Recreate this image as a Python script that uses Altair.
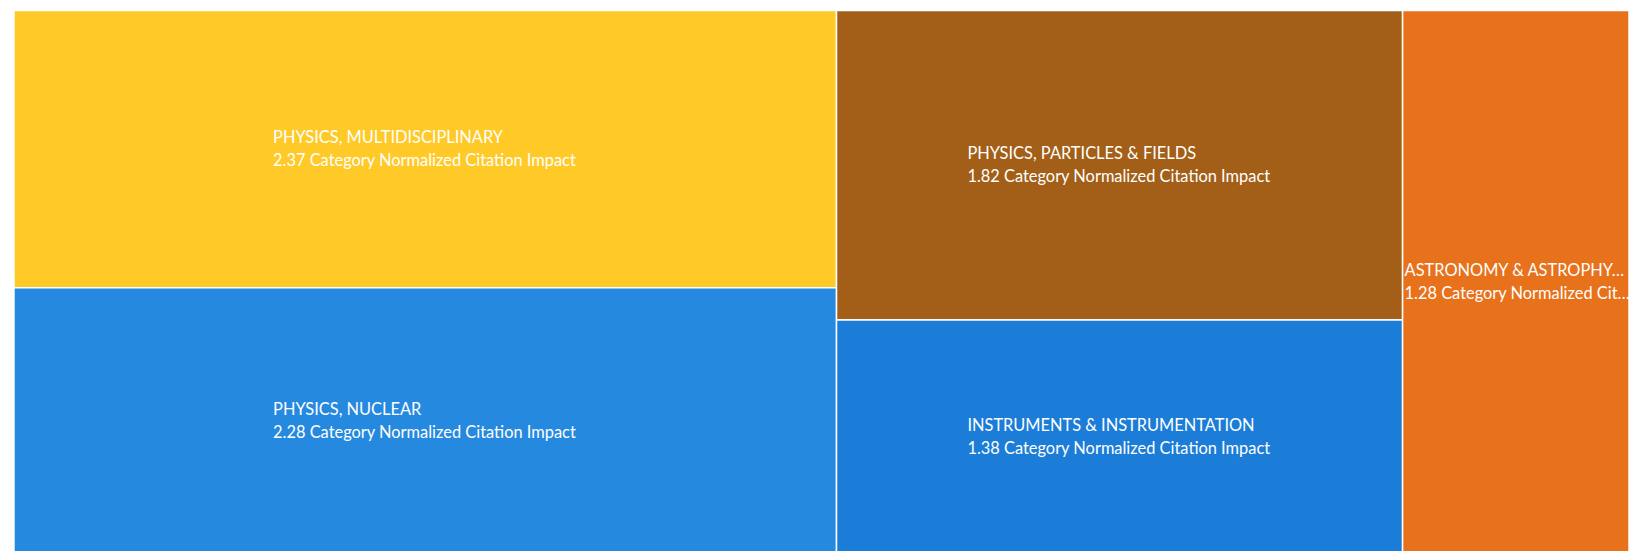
import altair as alt
import pandas as pd

categories = [
    "PHYSICS, MULTIDISCIPLINARY",
    "PHYSICS, NUCLEAR",
    "PHYSICS, PARTICLES & FIELDS",
    "INSTRUMENTS & INSTRUMENTATION",
    "ASTRONOMY & ASTROPHYSICS",
]
cnci = [2.37, 2.28, 1.82, 1.38, 1.28]
column = [0, 0, 1, 1, 2]
colors = ["#FFCA28", "#2689E0", "#A35F18", "#1B7DD7", "#E8711B"]

W = 1624
H = 547
HALF_TEXT = 153  # approx half width of the longest label line, px

df = pd.DataFrame({
    "category": categories,
    "value": cnci,
    "col": column,
    "order": list(range(len(categories))),
})

base = (
    alt.Chart(df)
    .transform_window(cum_all="sum(value)", sort=[alt.SortField("order")])
    .transform_window(cum_col="sum(value)", groupby=["col"], sort=[alt.SortField("order")])
    .transform_joinaggregate(colsum="sum(value)", colend="max(cum_all)", groupby=["col"])
    .transform_joinaggregate(total="sum(value)")
    .transform_calculate(
        x0="(datum.colend - datum.colsum) / datum.total",
        x1="datum.colend / datum.total",
        y0="(datum.cum_col - datum.value) / datum.colsum",
        y1="datum.cum_col / datum.colsum",
    )
    .transform_calculate(
        cx="(datum.x0 + datum.x1) / 2",
        cy="(datum.y0 + datum.y1) / 2",
    )
    .transform_calculate(
        tx=f"max(datum.x0 + 2 / {W}, datum.cx - {HALF_TEXT} / {W})",
        line2="format(datum.value, '.2f') + ' Category Normalized Citation Impact'",
    )
)

xs = alt.Scale(domain=[0, 1], nice=False, zero=False)
ys = alt.Scale(domain=[0, 1], nice=False, zero=False, reverse=True)

rects = base.mark_rect(stroke="white", strokeWidth=1.5).encode(
    x=alt.X("x0:Q", scale=xs, axis=None),
    x2="x1:Q",
    y=alt.Y("y0:Q", scale=ys, axis=None),
    y2="y1:Q",
    color=alt.Color("category:N", scale=alt.Scale(domain=categories, range=colors), legend=None),
    tooltip=["category:N", "value:Q"],
)

limit_expr = {"expr": f"(datum.x1 - datum.tx) * {W} + 2"}

t1 = base.mark_text(
    align="left", baseline="alphabetic", dy=-6.5, color="white",
    font="Lato", fontSize=16.5, limit=limit_expr,
).encode(
    x=alt.X("tx:Q", scale=xs, axis=None),
    y=alt.Y("cy:Q", scale=ys, axis=None),
    text="category:N",
)

t2 = base.mark_text(
    align="left", baseline="alphabetic", dy=16.5, color="white",
    font="Lato", fontSize=16.5, limit=limit_expr,
).encode(
    x=alt.X("tx:Q", scale=xs, axis=None),
    y=alt.Y("cy:Q", scale=ys, axis=None),
    text="line2:N",
)

chart = (
    alt.layer(rects, t1, t2)
    .properties(width=W, height=H, padding={"left": 5, "top": 0, "right": 0, "bottom": 0})
    .configure_view(stroke=None)
)

chart.save("out.html", embed_options={"renderer": "svg", "actions": False})
